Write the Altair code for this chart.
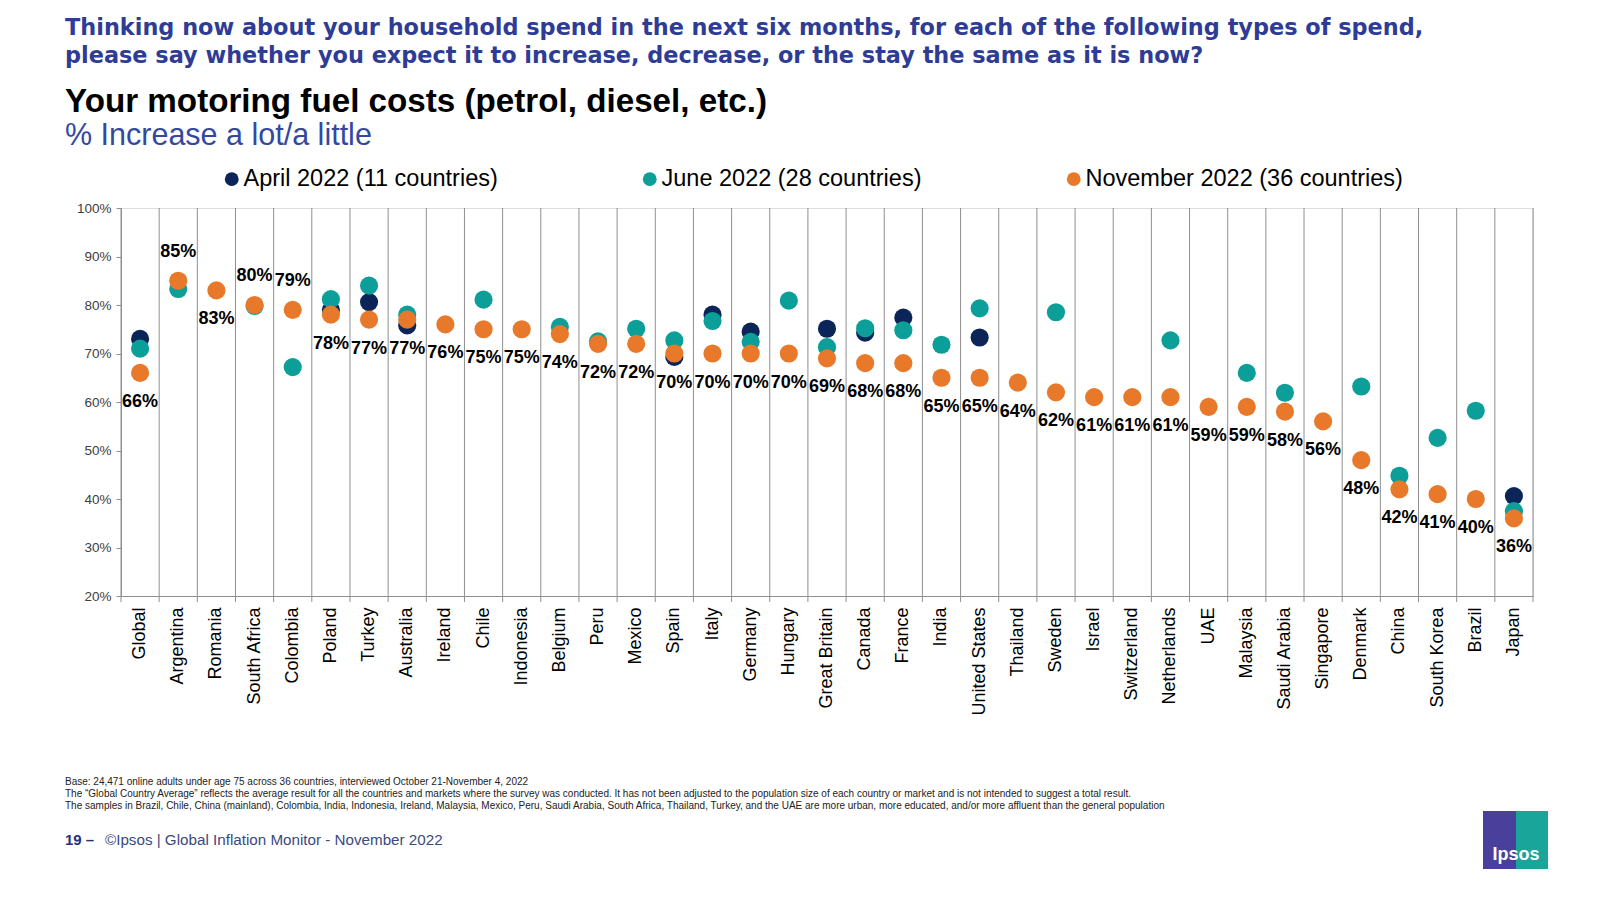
import altair as alt
import pandas as pd

countries = ["Global", "Argentina", "Romania", "South Africa", "Colombia", "Poland", "Turkey",
             "Australia", "Ireland", "Chile", "Indonesia", "Belgium", "Peru", "Mexico", "Spain",
             "Italy", "Germany", "Hungary", "Great Britain", "Canada", "France", "India",
             "United States", "Thailand", "Sweden", "Israel", "Switzerland", "Netherlands", "UAE",
             "Malaysia", "Saudi Arabia", "Singapore", "Denmark", "China", "South Korea", "Brazil",
             "Japan"]

april = [73.0, None, None, None, None, 79.0, 80.6, 75.8, None, None, None, None, None, None,
         69.3, 78.0, 74.5, None, 75.1, 74.3, 77.4, None, 73.3, None, None, None, None, None,
         None, None, None, None, None, None, None, None, 40.6]

june = [71.0, 83.3, None, 79.8, 67.2, 81.2, 84.0, 78.0, None, 81.1, None, 75.5, 72.5, 75.1,
        72.7, 76.7, 72.4, 80.9, 71.3, 75.2, 74.8, 71.8, 79.3, None, 78.5, None, None, 72.7,
        None, 66.0, 61.9, None, 63.2, 44.8, 52.6, 58.2, 37.5]

november = [66, 85, 83, 80, 79, 78, 77, 77, 76, 75, 75, 74, 72, 72, 70, 70, 70, 70, 69, 68, 68,
            65, 65, 64, 62, 61, 61, 61, 59, 59, 58, 56, 48, 42, 41, 40, 36]

series_names = ["April 2022 (11 countries)", "June 2022 (28 countries)",
                "November 2022 (36 countries)"]
series_colors = ["#0B2559", "#0C9E99", "#E8792A"]
y_ticks = [20, 30, 40, 50, 60, 70, 80, 90, 100]

question_lines = [
    "Thinking now about your household spend in the next six months, for each of the following types of spend,",
    "please say whether you expect it to increase, decrease, or the stay the same as it is now?",
]
title_text = "Your motoring fuel costs (petrol, diesel, etc.)"
subtitle_text = "% Increase a lot/a little"
footnotes = [
    "Base: 24,471 online adults under age 75 across 36 countries, interviewed October 21-November 4, 2022",
    "The \u201cGlobal Country Average\u201d reflects the average result for all the countries and markets where the survey was conducted. It has not been adjusted to the population size of each country or market and is not intended to suggest a total result.",
    "The samples in Brazil, Chile, China (mainland), Colombia, India, Indonesia, Ireland, Malaysia, Mexico, Peru, Saudi Arabia, South Africa, Thailand, Turkey, and the UAE are more urban, more educated, and/or more affluent than the general population",
]
footer_num = "19 \u2013"
footer_text = "\u00a9Ipsos | Global Inflation Monitor - November 2022"

# ---- tables built from the lists ----
rows = []
for s_idx, (name, vals) in enumerate(zip(series_names, [april, june, november])):
    for c, v in zip(countries, vals):
        if v is not None:
            rows.append({"country": c, "value": v, "series": name, "idx": s_idx})
long_df = pd.DataFrame(rows)

wide_df = pd.DataFrame({"country": countries, "june": june, "nov": november})
wide_df["has_june"] = wide_df["june"].notna()
wide_df["june"] = wide_df["june"].fillna(-1)
wide_df["value"] = wide_df["nov"]

FONT = "Liberation Sans"
W, H = 1412, 388
GRID = "#8f8f8f"

x_scale = alt.Scale(type="band", paddingInner=0, paddingOuter=0)
x_axis = alt.Axis(labelAngle=270, labelAlign="right", labelBaseline="middle",
                  ticks=False, grid=False, domainColor=GRID, labelFontSize=18,
                  labelColor="#000000", labelPadding=11, labelFont=FONT, labelLimit=300,
                  title=None)
y_scale = alt.Scale(domain=[20, 100], nice=False, zero=False)
y_axis = alt.Axis(values=y_ticks, labelExpr="datum.value + '%'", tickSize=5,
                  tickColor=GRID, domainColor=GRID, grid=False, labelFontSize=13.5,
                  labelColor="#404040", labelFont=FONT, labelPadding=5, title=None)

x_main = alt.X("country:N", sort=countries, scale=x_scale, axis=x_axis)
y_main = alt.Y("value:Q", scale=y_scale, axis=y_axis)

grid_rules = alt.Chart(wide_df).mark_rule(color=GRID, strokeWidth=1).encode(
    x=alt.X("country:N", sort=countries, bandPosition=0, scale=x_scale, axis=x_axis),
    y=alt.value(0), y2=alt.value(H + 6))

points = alt.Chart(long_df).mark_circle(size=330, opacity=1).encode(
    x=x_main, y=y_main,
    color=alt.Color("series:N", scale=alt.Scale(domain=series_names, range=series_colors),
                    legend=alt.Legend(orient="none", legendX=99, legendY=-41,
                                      direction="horizontal", title=None, labelFontSize=23.5,
                                      labelFont=FONT, labelColor="#000000", symbolSize=190,
                                      symbolType="circle", labelOffset=0, columnPadding=140,
                                      padding=0, labelLimit=500, symbolOpacity=1,
                                      symbolStrokeWidth=0)),
    order=alt.Order("idx:Q"))

lab_style = dict(fontSize=18, font=FONT, color="#000000", fontWeight="bold")
labels_below = alt.Chart(wide_df).transform_filter(
    "!datum.has_june || datum.june > datum.nov").transform_calculate(
    lbl="datum.nov + '%'").mark_text(dy=29, **lab_style).encode(
    x=x_main, y=y_main, text="lbl:N")
labels_above = alt.Chart(wide_df).transform_filter(
    "datum.has_june && datum.june <= datum.nov").transform_calculate(
    lbl="datum.nov + '%'").mark_text(dy=-29, **lab_style).encode(
    x=x_main, y=y_main, text="lbl:N")


def txt(s, x, y, size, color, weight="normal", align="left", font=FONT):
    return alt.Chart(pd.DataFrame({"t": [s]})).mark_text(
        align=align, baseline="middle", fontSize=size, font=font, color=color,
        fontWeight=weight).encode(x=alt.value(x), y=alt.value(y), text="t:N")


def rect(x1, x2, y1, y2, color):
    return alt.Chart(pd.DataFrame({"a": [0]})).mark_rect(color=color).encode(
        x=alt.value(x1), x2=alt.value(x2), y=alt.value(y1), y2=alt.value(y2))


right_rule = alt.Chart(pd.DataFrame({"a": [0]})).mark_rule(color=GRID, strokeWidth=1).encode(
    x=alt.value(W), y=alt.value(0), y2=alt.value(H + 6))

texts = [
    txt(question_lines[0], -56, -180, 22.4, "#2E3C96", "bold", font="DejaVu Sans"),
    txt(question_lines[1], -56, -152, 22.4, "#2E3C96", "bold", font="DejaVu Sans"),
    txt(title_text, -56, -106, 33.2, "#000000", "bold"),
    txt(subtitle_text, -56, -72, 30.5, "#3448A0"),
    txt(footnotes[0], -56, 574, 10, "#222222"),
    txt(footnotes[1], -56, 585.5, 10, "#222222"),
    txt(footnotes[2], -56, 598, 10, "#222222"),
    txt(footer_num, -56, 632, 15, "#23317F", "bold"),
    txt(footer_text, -16, 632, 15.2, "#3B4A80"),
]

logo = [
    rect(1362, 1395, 603, 661, "#4B3F9C"),
    rect(1395, 1427, 603, 661, "#19A59A"),
    txt("Ipsos", 1395, 647, 18, "#FFFFFF", "bold", "center"),
]

chart = alt.layer(grid_rules, right_rule, points, labels_below, labels_above, *texts,
                  *logo).properties(
    width=W, height=H,
    padding={"left": 113, "top": 200, "right": 59, "bottom": 280},
    autosize=alt.AutoSizeParams(type="none"),
).configure_view(stroke=None).configure(background="#FFFFFF")

chart.save("out.html", embed_options={"renderer": "svg", "actions": False})
